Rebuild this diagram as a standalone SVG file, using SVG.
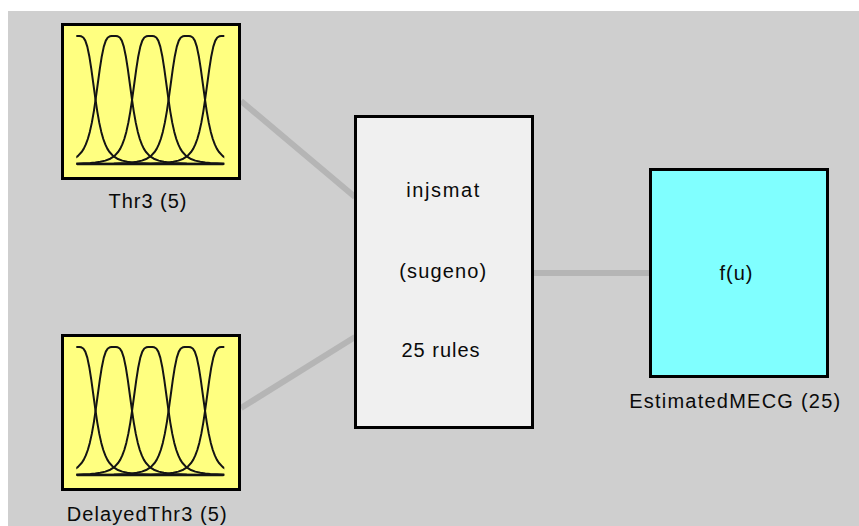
<svg xmlns="http://www.w3.org/2000/svg" xmlns:xlink="http://www.w3.org/1999/xlink" width="859" height="526" viewBox="0 0 859 526">
<style>
.box{stroke:#000;stroke-width:3}
.lbl{font-family:"Liberation Sans",Arial,sans-serif;font-size:20px;fill:#0a0a0a;text-anchor:middle}
.conn{stroke:#b5b5b5;stroke-width:6;fill:none}
.mf{fill:none;stroke:#141414;stroke-width:2;stroke-linejoin:round}
</style>
<defs>
<clipPath id="dom" clipPathUnits="userSpaceOnUse"><rect x="76.3" y="30" width="148" height="140"/></clipPath>
<path id="gbell" d="M-146 164 L-100 163.86 -73 163.5 -60 162.9 -55 162.5 -50 161.8 -45 160.6 -40 158.7 -36 156.1 -32 151.8 -30 148.6 -28 144.4 -26 139 -24 131.9 -22 122.9 -20 111.6 -18 98.2 -16 83.5 -14 68.9 -12 56.2 -10 46.6 -8 40.6 -6 37.5 -4 36.3 -2 36 0 36 2 36 4 36.3 6 37.5 8 40.6 10 46.6 12 56.2 14 68.9 16 83.5 18 98.2 20 111.6 22 122.9 24 131.9 26 139 28 144.4 30 148.6 32 151.8 36 156.1 40 158.7 45 160.6 50 161.8 55 162.5 60 162.9 73 163.5 100 163.86 146 164"/>
<g id="mfs">
<g clip-path="url(#dom)" class="mf">
<use xlink:href="#gbell" href="#gbell" transform="translate(77.3 0)"/>
<use xlink:href="#gbell" href="#gbell" transform="translate(113.8 0)"/>
<use xlink:href="#gbell" href="#gbell" transform="translate(150.3 0)"/>
<use xlink:href="#gbell" href="#gbell" transform="translate(186.8 0)"/>
<use xlink:href="#gbell" href="#gbell" transform="translate(223.3 0)"/>
</g>
<line x1="77" y1="164.3" x2="223.5" y2="164.3" stroke="#141414" stroke-width="1.8"/>
</g>
</defs>
<rect x="0" y="0" width="859" height="526" fill="#ffffff"/>
<rect x="8" y="11" width="851" height="515" fill="#cfcfcf"/>
<g id="connectors">
<line class="conn" x1="241" y1="101" x2="355" y2="197"/>
<line class="conn" x1="241" y1="408" x2="355" y2="337"/>
<line class="conn" x1="533" y1="273" x2="650" y2="273"/>
</g>
<g id="input-thr3">
<rect class="box" x="62.5" y="24.5" width="177" height="154" fill="#ffff80"/>
<use xlink:href="#mfs" href="#mfs"/>
<text class="lbl" x="147.5" y="208.3" textLength="78" lengthAdjust="spacing">Thr3 (5)</text>
</g>
<g id="input-delayedthr3">
<rect class="box" x="62.5" y="335.5" width="177" height="154" fill="#ffff80"/>
<use xlink:href="#mfs" href="#mfs" transform="translate(0 311)"/>
<text class="lbl" x="146.7" y="521" textLength="160" lengthAdjust="spacing">DelayedThr3 (5)</text>
</g>
<g id="system-injsmat">
<rect class="box" x="355.5" y="116.5" width="177" height="311" fill="#f0f0f0"/>
<text class="lbl" x="442.7" y="196.5" textLength="73" lengthAdjust="spacing">injsmat</text>
<text class="lbl" x="442.7" y="278.3" textLength="87" lengthAdjust="spacing">(sugeno)</text>
<text class="lbl" x="440.5" y="356.5" textLength="78" lengthAdjust="spacing">25 rules</text>
</g>
<g id="output-estimatedmecg">
<rect class="box" x="650.5" y="169.5" width="177" height="207" fill="#80ffff"/>
<text class="lbl" x="736" y="280" textLength="33" lengthAdjust="spacing">f(u)</text>
<text class="lbl" x="734.7" y="407.7" textLength="211" lengthAdjust="spacing">EstimatedMECG (25)</text>
</g>
</svg>
